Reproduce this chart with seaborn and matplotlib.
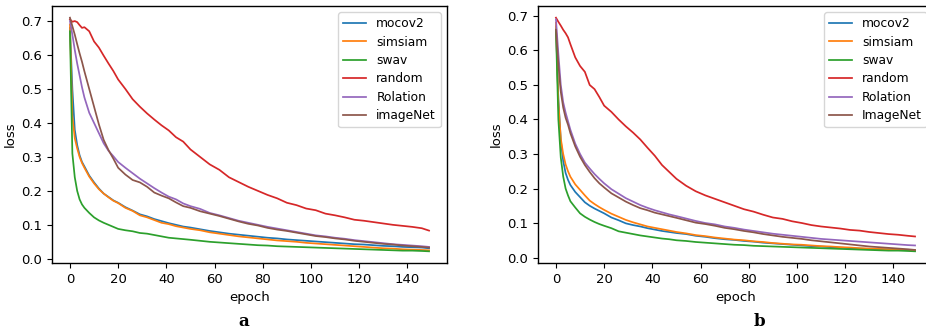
import matplotlib
matplotlib.use("Agg")
import matplotlib.pyplot as plt
import seaborn as sns
import pandas as pd

epochs = [0, 1, 2, 3, 4, 5, 6, 8, 10, 12, 14, 16, 18, 20, 23, 26, 29, 32, 35, 38,
          41, 44, 47, 50, 54, 58, 62, 66, 70, 74, 78, 82, 86, 90, 94, 98, 102, 106,
          110, 114, 118, 122, 126, 130, 134, 138, 142, 146, 149]

# ---- panel a ----
mocov2_a = [0.680, 0.500, 0.380, 0.335, 0.305, 0.285, 0.272, 0.245, 0.225, 0.207, 0.192, 0.182, 0.172, 0.165,
            0.152, 0.142, 0.131, 0.125, 0.117, 0.111, 0.105, 0.100, 0.095, 0.092, 0.087, 0.082, 0.078, 0.074,
            0.071, 0.068, 0.065, 0.062, 0.060, 0.057, 0.055, 0.053, 0.051, 0.049, 0.047, 0.045, 0.043, 0.042,
            0.040, 0.038, 0.037, 0.035, 0.034, 0.033, 0.031]
simsiam_a = [0.690, 0.420, 0.355, 0.325, 0.300, 0.282, 0.268, 0.242, 0.222, 0.205, 0.192, 0.181, 0.171, 0.164,
             0.150, 0.141, 0.128, 0.122, 0.114, 0.106, 0.102, 0.096, 0.092, 0.088, 0.084, 0.078, 0.074, 0.070,
             0.066, 0.063, 0.060, 0.057, 0.054, 0.052, 0.050, 0.047, 0.045, 0.043, 0.041, 0.039, 0.037, 0.035,
             0.033, 0.031, 0.030, 0.028, 0.027, 0.026, 0.025]
swav_a = [0.670, 0.310, 0.240, 0.200, 0.175, 0.160, 0.150, 0.135, 0.122, 0.113, 0.106, 0.100, 0.094, 0.088,
          0.084, 0.081, 0.076, 0.074, 0.070, 0.066, 0.062, 0.060, 0.058, 0.056, 0.053, 0.050, 0.048, 0.046,
          0.044, 0.042, 0.040, 0.039, 0.037, 0.036, 0.035, 0.034, 0.033, 0.032, 0.031, 0.030, 0.029, 0.028,
          0.027, 0.026, 0.025, 0.024, 0.024, 0.023, 0.022]
random_a = [0.705, 0.698, 0.700, 0.697, 0.688, 0.680, 0.682, 0.670, 0.640, 0.622, 0.598, 0.575, 0.553, 0.528,
            0.500, 0.470, 0.448, 0.428, 0.410, 0.393, 0.378, 0.358, 0.345, 0.322, 0.300, 0.278, 0.262, 0.240,
            0.226, 0.212, 0.200, 0.188, 0.178, 0.165, 0.158, 0.148, 0.143, 0.133, 0.128, 0.122, 0.115, 0.112,
            0.108, 0.104, 0.100, 0.097, 0.094, 0.090, 0.083]
rolation_a = [0.700, 0.660, 0.615, 0.575, 0.540, 0.505, 0.475, 0.430, 0.400, 0.370, 0.340, 0.318, 0.302, 0.285,
              0.268, 0.252, 0.236, 0.222, 0.208, 0.195, 0.183, 0.175, 0.163, 0.155, 0.147, 0.135, 0.128, 0.120,
              0.112, 0.106, 0.100, 0.094, 0.089, 0.084, 0.079, 0.074, 0.069, 0.066, 0.062, 0.059, 0.055, 0.052,
              0.049, 0.046, 0.043, 0.041, 0.039, 0.037, 0.035]
imagenet_a = [0.710, 0.685, 0.660, 0.632, 0.605, 0.580, 0.552, 0.500, 0.448, 0.396, 0.350, 0.320, 0.295, 0.268,
              0.248, 0.232, 0.225, 0.212, 0.195, 0.186, 0.178, 0.166, 0.155, 0.150, 0.140, 0.133, 0.126, 0.118,
              0.110, 0.103, 0.098, 0.091, 0.086, 0.082, 0.077, 0.072, 0.067, 0.064, 0.060, 0.057, 0.053, 0.050,
              0.047, 0.044, 0.042, 0.039, 0.037, 0.035, 0.033]

# ---- panel b ----
mocov2_b = [0.670, 0.460, 0.340, 0.280, 0.245, 0.225, 0.210, 0.190, 0.175, 0.160, 0.150, 0.142, 0.135, 0.128,
            0.116, 0.108, 0.099, 0.094, 0.090, 0.085, 0.081, 0.077, 0.074, 0.071, 0.068, 0.063, 0.060, 0.056,
            0.053, 0.051, 0.048, 0.046, 0.043, 0.041, 0.039, 0.037, 0.035, 0.033, 0.032, 0.030, 0.029, 0.027,
            0.026, 0.025, 0.024, 0.023, 0.022, 0.021, 0.020]
simsiam_b = [0.680, 0.450, 0.345, 0.300, 0.270, 0.250, 0.234, 0.212, 0.196, 0.180, 0.165, 0.155, 0.146, 0.138,
             0.127, 0.118, 0.109, 0.102, 0.096, 0.090, 0.086, 0.082, 0.078, 0.074, 0.070, 0.065, 0.062, 0.058,
             0.055, 0.052, 0.050, 0.047, 0.045, 0.042, 0.040, 0.038, 0.037, 0.035, 0.033, 0.032, 0.030, 0.029,
             0.027, 0.026, 0.025, 0.024, 0.023, 0.022, 0.021]
swav_b = [0.660, 0.400, 0.290, 0.235, 0.200, 0.180, 0.163, 0.145, 0.128, 0.118, 0.110, 0.103, 0.097, 0.092,
          0.085, 0.076, 0.072, 0.068, 0.064, 0.061, 0.058, 0.055, 0.053, 0.050, 0.048, 0.045, 0.043, 0.041,
          0.039, 0.037, 0.036, 0.034, 0.033, 0.032, 0.031, 0.030, 0.029, 0.028, 0.027, 0.026, 0.025, 0.024,
          0.023, 0.022, 0.021, 0.020, 0.020, 0.019, 0.018]
random_b = [0.695, 0.683, 0.672, 0.660, 0.650, 0.638, 0.618, 0.580, 0.555, 0.538, 0.500, 0.488, 0.465, 0.440,
            0.422, 0.400, 0.380, 0.362, 0.342, 0.318, 0.295, 0.268, 0.248, 0.228, 0.208, 0.192, 0.180, 0.170,
            0.160, 0.150, 0.140, 0.133, 0.124, 0.116, 0.112, 0.105, 0.100, 0.094, 0.090, 0.087, 0.084, 0.080,
            0.078, 0.074, 0.071, 0.068, 0.066, 0.063, 0.061]
rolation_b = [0.690, 0.590, 0.500, 0.450, 0.420, 0.395, 0.370, 0.330, 0.300, 0.275, 0.258, 0.242, 0.228, 0.215,
              0.198, 0.185, 0.172, 0.162, 0.152, 0.144, 0.137, 0.131, 0.125, 0.120, 0.113, 0.106, 0.100, 0.096,
              0.090, 0.086, 0.081, 0.077, 0.073, 0.069, 0.066, 0.063, 0.060, 0.057, 0.054, 0.052, 0.050, 0.048,
              0.046, 0.044, 0.042, 0.040, 0.038, 0.036, 0.035]
imagenet_b = [0.660, 0.560, 0.480, 0.435, 0.405, 0.385, 0.360, 0.322, 0.292, 0.268, 0.248, 0.230, 0.215, 0.203,
              0.186, 0.174, 0.162, 0.152, 0.143, 0.137, 0.130, 0.125, 0.120, 0.115, 0.108, 0.101, 0.097, 0.092,
              0.086, 0.082, 0.077, 0.073, 0.068, 0.064, 0.060, 0.057, 0.054, 0.050, 0.047, 0.044, 0.041, 0.038,
              0.035, 0.032, 0.030, 0.028, 0.026, 0.024, 0.022]

names_a = ["mocov2", "simsiam", "swav", "random", "Rolation", "imageNet"]
names_b = ["mocov2", "simsiam", "swav", "random", "Rolation", "ImageNet"]
series_a = [mocov2_a, simsiam_a, swav_a, random_a, rolation_a, imagenet_a]
series_b = [mocov2_b, simsiam_b, swav_b, random_b, rolation_b, imagenet_b]
panel_labels = ["a", "b"]


def long_df(names, series):
    rows = []
    for n, s in zip(names, series):
        for e, v in zip(epochs, s):
            rows.append({"epoch": e, "loss": v, "method": n})
    return pd.DataFrame(rows)


plt.rcParams.update({"font.size": 9, "axes.linewidth": 1.0})
fig = plt.figure(figsize=(9.26, 3.33), dpi=100)
W, H = 926, 333
ax_a = fig.add_axes([52 / W, 70 / H, 395 / W, 257 / H])
ax_b = fig.add_axes([538 / W, 70 / H, 395 / W, 257 / H])

palette = sns.color_palette("tab10", 6)
for ax, names, series, lab, cx in [(ax_a, names_a, series_a, panel_labels[0], 244),
                                   (ax_b, names_b, series_b, panel_labels[1], 759)]:
    df = long_df(names, series)
    sns.lineplot(data=df, x="epoch", y="loss", hue="method", hue_order=names,
                 palette=palette, linewidth=1.25, ax=ax, legend=True)
    ax.set_xticks([0, 20, 40, 60, 80, 100, 120, 140])
    ax.set_yticks([0.0, 0.1, 0.2, 0.3, 0.4, 0.5, 0.6, 0.7])
    ax.tick_params(labelsize=9.5)
    ax.set_xlabel("epoch", fontsize=9.5)
    ax.set_ylabel("loss", fontsize=9.5, labelpad=3)
    ax.legend(loc="upper right", fontsize=8.8, title=None, handlelength=1.9,
              labelspacing=0.45)
    fig.text(cx / W, 1 - 322 / H, lab, ha="center", va="center",
             fontsize=12, fontweight="bold", family="DejaVu Serif")

fig.savefig("out.png", dpi=100)
